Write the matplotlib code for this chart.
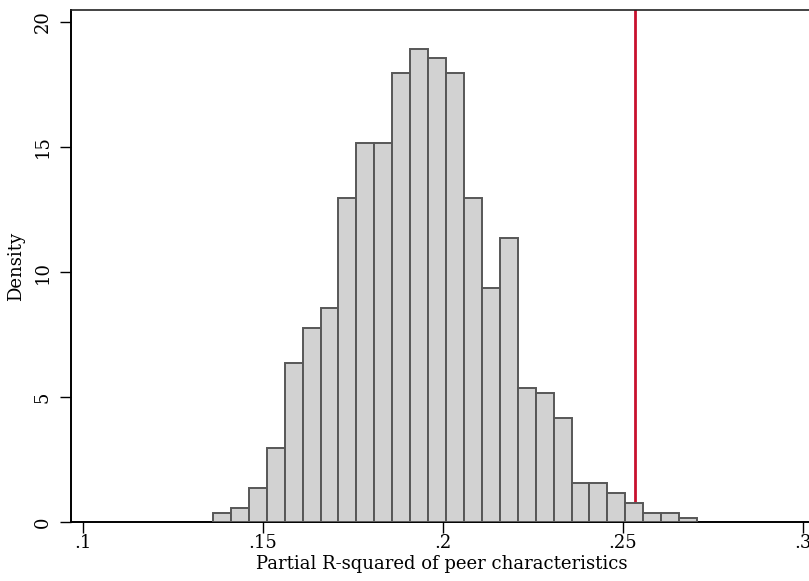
import matplotlib
matplotlib.use('Agg')
import matplotlib.pyplot as plt
import numpy as np

# histogram of permuted partial R-squared values (density scale)
bin_start = 0.1361
bin_width = 0.00498
densities = [0.37, 0.56, 1.35, 2.97, 6.37, 7.75, 8.56, 12.95, 15.15, 15.15,
             17.97, 18.93, 18.55, 17.97, 12.95, 9.37, 11.36, 5.35, 5.15, 4.15,
             1.55, 1.55, 1.17, 0.77, 0.37, 0.37, 0.17]
observed = 0.2533

x_ticks = [0.1, 0.15, 0.2, 0.25, 0.3]
x_labels = ['.1', '.15', '.2', '.25', '.3']
y_ticks = [0, 5, 10, 15, 20]

plt.rcParams['font.family'] = ['DejaVu Serif']

fig = plt.figure(figsize=(8.09, 5.81), dpi=100)
ax = fig.add_axes([71 / 809, 59 / 581, 741 / 809, 512 / 581])

lefts = bin_start + bin_width * np.arange(len(densities))
ax.bar(lefts, densities, width=bin_width, align='edge',
       color='#d2d2d2', edgecolor='#575757', linewidth=1.4, zorder=3)
ax.axvline(observed, color='#c8102e', linewidth=2.0, zorder=2)

ax.set_xlim(0.09667, 0.3025)
ax.set_ylim(0, 20.48)

ax.set_xticks(x_ticks)
ax.set_xticklabels(x_labels)
ax.set_yticks(y_ticks)
ax.set_yticklabels([str(v) for v in y_ticks], rotation=90, va='center')
ax.tick_params(axis='both', direction='out', length=8, width=1.0,
               labelsize=13, color='black')
ax.tick_params(axis='x', pad=1)
ax.tick_params(axis='y', pad=6)

ax.set_xlabel('Partial R-squared of peer characteristics', fontsize=13,
              labelpad=2)
ax.set_ylabel('Density', fontsize=13, labelpad=6)

for side in ['left', 'bottom']:
    ax.spines[side].set_linewidth(1.4)
    ax.spines[side].set_color('black')
ax.spines['top'].set_linewidth(1.2)
ax.spines['top'].set_color('#222222')
ax.spines['right'].set_visible(False)

fig.savefig('out.png', dpi=100)
